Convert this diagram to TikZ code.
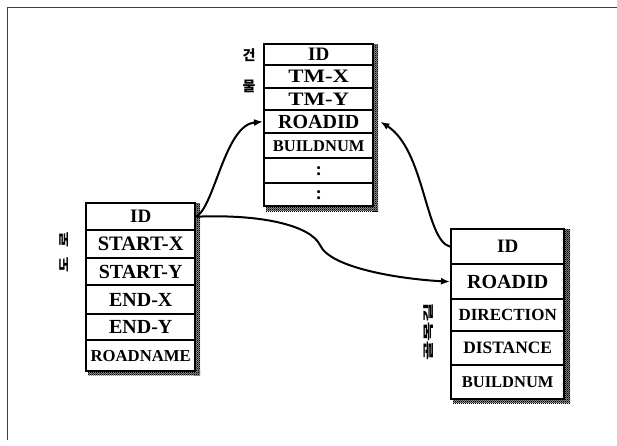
\documentclass[tikz,border=0pt]{standalone}
\usepackage{fontspec}
\setmainfont{Liberation Serif}
\newfontfamily\krfont{Noto Sans CJK KR}
\usetikzlibrary{patterns.meta,arrows.meta}
\tikzdeclarepattern{
  name=chk,
  type=uncolored,
  bounding box={(0pt,0pt) and (2.2pt,2.2pt)},
  tile size={(2.2pt,2.2pt)},
  code={\fill (0pt,0pt) rectangle (1.1pt,1.1pt); \fill (1.1pt,1.1pt) rectangle (2.2pt,2.2pt);}
}
\newcommand{\fs}[1]{\bfseries\fontsize{#1}{#1}\selectfont}
\tikzset{
  cell/.style={draw, line width=2.4pt, inner sep=0pt, anchor=north west, font=\fs{19}},
  shadowbox/.style={fill=black!45, postaction={pattern=chk, pattern color=black}},
  link/.style={line width=2pt, -{Latex[length=9pt,width=7pt]}},
  kor/.style={font=\krfont\bfseries\fontsize{14}{14}\selectfont, inner sep=0pt},
  frame/.style={line width=0.9pt, black!75}
}
\begin{document}
\begin{tikzpicture}[x=1pt,y=-1pt]
\useasboundingbox (0,0) rectangle (617,445);
\draw[frame] (7,440) -- (7,7) -- (617,7);

% shadows
\fill[shadowbox] (372,44) rectangle (378,211);
\fill[shadowbox] (266,205) rectangle (378,211);
\fill[shadowbox] (194,203) rectangle (200,375);
\fill[shadowbox] (88,370) rectangle (200,375);
\fill[shadowbox] (563,229) rectangle (570,403);
\fill[shadowbox] (453,398) rectangle (570,403);

% building table
\node[cell, minimum width=109pt, minimum height=21pt] (b1) at (263,43) {ID};
\node[cell, minimum width=109pt, minimum height=23pt] (b2) at (263,64) {\scalebox{1.2}[1]{TM-X}};
\node[cell, minimum width=109pt, minimum height=22pt] (b3) at (263,87) {\scalebox{1.2}[1]{TM-Y}};
\node[cell, minimum width=109pt, minimum height=23pt, font=\fs{20}] (b4) at (263,109) {ROADID};
\node[cell, minimum width=109pt, minimum height=25pt, font=\fs{16.5}] (b5) at (263,132) {BUILDNUM};
\node[cell, minimum width=109pt, minimum height=25pt] (b6) at (263,157) {:};
\node[cell, minimum width=109pt, minimum height=23pt] (b7) at (263,182) {:};

% road table
\node[cell, minimum width=109pt, minimum height=27pt] (r1) at (85,202) {ID};
\node[cell, minimum width=109pt, minimum height=28pt, font=\fs{20.5}] (r2) at (85,229) {START-X};
\node[cell, minimum width=109pt, minimum height=27pt, font=\fs{20}] (r3) at (85,257) {START-Y};
\node[cell, minimum width=109pt, minimum height=29pt, font=\fs{20}] (r4) at (85,284) {END-X};
\node[cell, minimum width=109pt, minimum height=26pt, font=\fs{20}] (r5) at (85,313) {END-Y};
\node[cell, minimum width=109pt, minimum height=31pt, font=\fs{16.7}] (r6) at (85,339) {ROADNAME};

% alley table
\node[cell, minimum width=113pt, minimum height=35pt] (g1) at (450,228) {ID};
\node[cell, minimum width=113pt, minimum height=35pt, font=\fs{20}] (g2) at (450,263) {ROADID};
\node[cell, minimum width=113pt, minimum height=32pt, font=\fs{17}] (g3) at (450,298) {DIRECTION};
\node[cell, minimum width=113pt, minimum height=34pt, font=\fs{17.4}] (g4) at (450,330) {DISTANCE};
\node[cell, minimum width=113pt, minimum height=34pt, font=\fs{16.5}] (g5) at (450,364) {BUILDNUM};

% labels
\node[kor] (lb1) at (249,55) {건};
\node[kor] (lb2) at (249,86) {물};
\node[kor, rotate=90] (lroad) at (64,252) {\scalebox{1.2}[0.8]{도}\hspace{10pt}\scalebox{1.2}[0.8]{로}};
\node[kor, rotate=90] (lalley) at (429,332) {\scalebox{1.5}[0.75]{골목길}};

% connectors
\draw[link] (r1.east) .. controls (215,205) and (225,125) .. (b4.west);
\draw[link] (r1.east) .. controls (260,214) and (310,225) .. (320,245)
                      .. controls (330,268) and (400,279) .. (g2.west);
\draw[link] (g1.west) .. controls (425,240) and (425,150) .. ([xshift=6pt]b4.east);
\end{tikzpicture}
\end{document}
